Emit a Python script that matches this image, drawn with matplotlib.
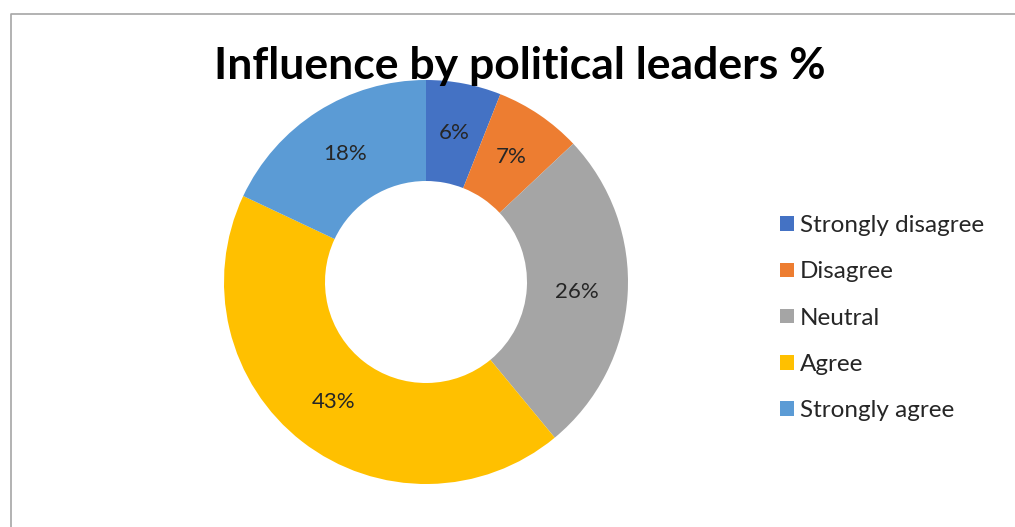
import matplotlib.pyplot as plt
from matplotlib.lines import Line2D

plt.rcParams['font.family'] = ['Lato', 'DejaVu Sans']

categories = ['Strongly disagree', 'Disagree', 'Neutral', 'Agree', 'Strongly agree']
shares = [6, 7, 26, 43, 18]
colors = ['#4472C4', '#ED7D31', '#A5A5A5', '#FFC000', '#5B9BD5']

W, H = 1015, 527
fig = plt.figure(figsize=(W / 100, H / 100), dpi=100, facecolor='white')

# chart border (top and left edges visible)
fig.add_artist(Line2D([11 / W, 11 / W, 1], [0, 1 - 14 / H, 1 - 14 / H],
                      transform=fig.transFigure, color='#a6a6a6', lw=1.2))

# donut centred at (426, 282) px with outer radius ~202 px
cx, cy, r = 426, 282, 202
ax = fig.add_axes([(cx - r) / W, (H - cy - r) / H, 2 * r / W, 2 * r / H])
wedges, texts, autotexts = ax.pie(
    shares, colors=colors, startangle=90, counterclock=False,
    wedgeprops=dict(width=0.5, linewidth=0),
    autopct='%1.0f%%', pctdistance=0.75,
    textprops=dict(fontsize=16, color='#262626'))
ax.set_xlim(-1, 1)
ax.set_ylim(-1, 1)
ax.set_aspect('equal')
ax.axis('off')

fig.text(520 / W, 1 - 66 / H, 'Influence by political leaders %',
         ha='center', va='center', fontsize=32, fontweight='bold',
         color='black', zorder=10)

fig.legend(wedges, categories, loc='upper left',
           bbox_to_anchor=(768 / W, 1 - 203 / H), frameon=False,
           fontsize=17.5, handlelength=0.55, handleheight=0.55,
           handletextpad=0.25, labelspacing=1.04, borderpad=0,
           labelcolor='#262626')

fig.savefig('out.png', dpi=100, facecolor='white')
